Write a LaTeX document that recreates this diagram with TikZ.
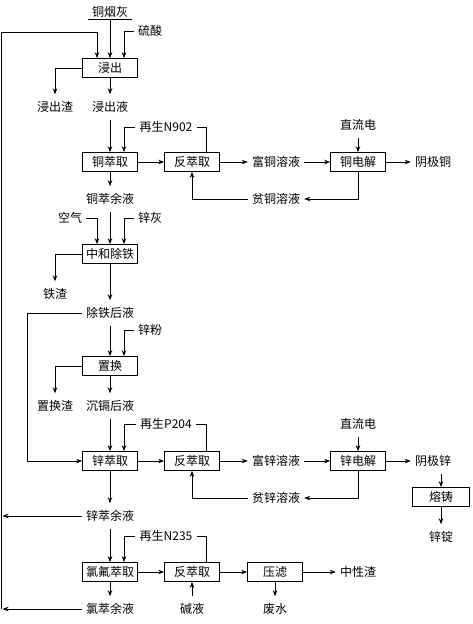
\documentclass[tikz,border=0pt]{standalone}
\usepackage{fontspec}
\setmainfont{Noto Sans CJK SC}
\usetikzlibrary{arrows.meta}
\begin{document}
\begin{tikzpicture}[x=1pt,y=-1pt,>={Stealth[length=6pt,width=4.5pt]},
  box/.style={draw,line width=0.7pt,minimum width=55pt,minimum height=19pt,inner sep=1pt},
  lbl/.style={inner xsep=4pt,inner ysep=7pt},
  line/.style={line width=0.7pt},
  font=\fontsize{12}{14}\selectfont]
  \useasboundingbox (0,0) rectangle (472,624);
  % 浸出
  \node[lbl,inner ysep=2pt] (ash) at (110,12) {铜烟灰};
  \draw[line] (ash.south west) -- (ash.south east);
  \node[lbl] (acid) at (150,31) {硫酸};
  \node[box] (leach) at (110,68) {浸出};
  \node[lbl] (res1) at (55,107) {浸出渣};
  \node[lbl] (liq1) at (110,107) {浸出液};
  \coordinate (tl) at (1.5,32);
  \coordinate (bl) at (1.5,609);
  \draw[line,->] (ash.south) -- (leach.north);
  \draw[line,->] (acid.west) -| ([xshift=14pt]leach.north);
  \draw[line width=1.4pt] (bl) -- (tl);
  \draw[line,->] (tl) -| ([xshift=-13pt]leach.north);
  \draw[line,->] (leach.west) -| (res1.north);
  \draw[line,->] (leach.south) -- (liq1.north);

  % 铜萃取
  \node[box] (cuex) at (110,162) {铜萃取};
  \node[lbl] (regen1) at (166,127) {再生N902};
  \node[box] (strip1) at (192,162) {反萃取};
  \node[lbl] (rich1) at (276,162) {富铜溶液};
  \node[box] (cuel) at (358,162) {铜电解};
  \node[lbl] (dc1) at (358,125) {直流电};
  \node[lbl] (cathcu) at (433,162) {阴极铜};
  \node[lbl] (poor1) at (276,199) {贫铜溶液};
  \node[lbl] (raff1) at (110,199) {铜萃余液};
  \draw[line,->] (liq1.south) -- (cuex.north);
  \draw[line,->] (regen1.west) -| ([xshift=14pt]cuex.north);
  \draw[line] (regen1.east) -| ([xshift=14pt]strip1.north);
  \draw[line,->] (cuex.east) -- (strip1.west);
  \draw[line,->] (strip1.east) -- (rich1.west);
  \draw[line,->] (rich1.east) -- (cuel.west);
  \draw[line,->] (dc1.south) -- (cuel.north);
  \draw[line,->] (cuel.east) -- (cathcu.west);
  \draw[line,->] (cuel.south) |- (poor1.east);
  \draw[line,->] (poor1.west) -| (strip1.south);
  \draw[line,->] (cuex.south) -- (raff1.north);

  % 中和除铁
  \node[lbl] (air) at (70,218) {空气};
  \node[lbl] (znash) at (150,218) {锌灰};
  \node[box] (neut) at (110,254) {中和除铁};
  \node[lbl] (fe) at (55,294) {铁渣};
  \node[lbl] (liq2) at (110,313) {除铁后液};
  \draw[line,->] (raff1.south) -- (neut.north);
  \draw[line,->] (air.east) -| ([xshift=-13pt]neut.north);
  \draw[line,->] (znash.west) -| ([xshift=14pt]neut.north);
  \draw[line,->] (neut.west) -| (fe.north);
  \draw[line,->] (neut.south) -- (liq2.north);

  % 置换
  \node[lbl] (znp) at (150,330) {锌粉};
  \node[box] (cem) at (110,366) {置换};
  \node[lbl] (res2) at (55,406) {置换渣};
  \node[lbl] (liq3) at (110,406) {沉镉后液};
  \draw[line,->] (liq2.south) -- (cem.north);
  \draw[line,->] (znp.west) -| ([xshift=14pt]cem.north);
  \draw[line,->] (cem.west) -| (res2.north);
  \draw[line,->] (cem.south) -- (liq3.north);

  % 锌萃取
  \node[box] (znex) at (110,461) {锌萃取};
  \node[lbl] (regen2) at (166,424) {再生P204};
  \node[box] (strip2) at (192,461) {反萃取};
  \node[lbl] (rich2) at (276,461) {富锌溶液};
  \node[box] (znel) at (358,461) {锌电解};
  \node[lbl] (dc2) at (358,424) {直流电};
  \node[lbl] (cathzn) at (433,461) {阴极锌};
  \node[lbl] (poor2) at (276,498) {贫锌溶液};
  \node[box,minimum width=57pt] (cast) at (441,497) {熔铸};
  \node[lbl] (ingot) at (441,537) {锌锭};
  \node[lbl] (raff2) at (110,516) {锌萃余液};
  \coordinate (lp) at (27,461);
  \draw[line,->] (liq3.south) -- (znex.north);
  \draw[line,->] (liq2.west) -| (lp) -- (znex.west);
  \draw[line,->] (regen2.west) -| ([xshift=14pt]znex.north);
  \draw[line] (regen2.east) -| ([xshift=14pt]strip2.north);
  \draw[line,->] (znex.east) -- (strip2.west);
  \draw[line,->] (strip2.east) -- (rich2.west);
  \draw[line,->] (rich2.east) -- (znel.west);
  \draw[line,->] (dc2.south) -- (znel.north);
  \draw[line,->] (znel.east) -- (cathzn.west);
  \draw[line,->] (znel.south) |- (poor2.east);
  \draw[line,->] (poor2.west) -| (strip2.south);
  \draw[line,->] (cathzn.south -| cast.north) -- (cast.north);
  \draw[line,->] (cast.south) -- (ingot.north);
  \draw[line,->] (znex.south) -- (raff2.north);
  \draw[line,->] (raff2.west) -- ([xshift=1pt]raff2.west -| tl);

  % 氯氟萃取
  \node[box] (clex) at (110,572) {氯氟萃取};
  \node[lbl] (regen3) at (166,536) {再生N235};
  \node[box] (strip3) at (192,572) {反萃取};
  \node[box] (filt) at (275,572) {压滤};
  \node[lbl] (neutres) at (358,572) {中性渣};
  \node[lbl] (water) at (275,609) {废水};
  \node[lbl] (alkali) at (192,609) {碱液};
  \node[lbl] (raff3) at (110,609) {氯萃余液};
  \draw[line,->] (raff2.south) -- (clex.north);
  \draw[line,->] (regen3.west) -| ([xshift=14pt]clex.north);
  \draw[line] (regen3.east) -| ([xshift=14pt]strip3.north);
  \draw[line,->] (clex.east) -- (strip3.west);
  \draw[line,->] (strip3.east) -- (filt.west);
  \draw[line,->] (filt.east) -- (neutres.west);
  \draw[line,->] (filt.south) -- (water.north);
  \draw[line,->] (alkali.north) -- (strip3.south);
  \draw[line,->] (clex.south) -- (raff3.north);
  \draw[line,->] (raff3.west) -- ([xshift=1pt]bl);
\end{tikzpicture}
\end{document}
